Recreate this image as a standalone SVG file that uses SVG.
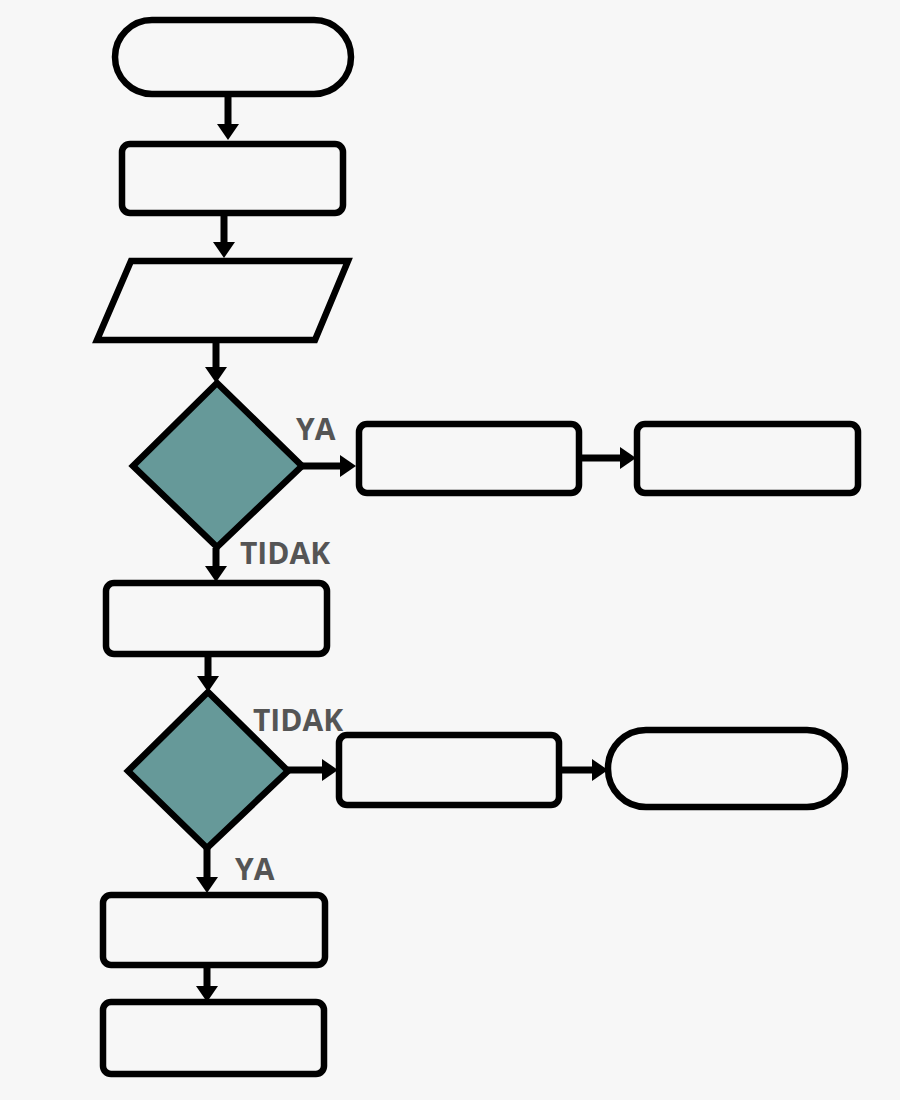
<svg xmlns="http://www.w3.org/2000/svg" width="900" height="1100" viewBox="0 0 900 1100">
  <style>
    .box { fill: #f7f7f7; stroke: #000; stroke-width: 6.5; }
    .dec { fill: #669999; stroke: #000; stroke-width: 6.5; stroke-linejoin: miter; }
    .edge { fill: none; stroke: #000; stroke-width: 7; marker-end: url(#arrow); }
    .lbl { font-family: "Open Sans", "Liberation Sans", sans-serif; font-weight: bold; font-size: 30px; fill: #555555; }
  </style>
  <defs>
    <marker id="arrow" viewBox="0 0 16 22" refX="8" refY="11" markerWidth="16" markerHeight="22" markerUnits="userSpaceOnUse" orient="auto">
      <path d="M0,0 L16,11 L0,22 Z" fill="#000"/>
    </marker>
  </defs>
  <rect width="900" height="1100" fill="#f7f7f7"/>

  <g id="connectors">
    <path class="edge" d="M228,97 V132"/>
    <path class="edge" d="M224,216 V250"/>
    <path class="edge" d="M216,340 V375"/>
    <path class="edge" d="M301,466 H348"/>
    <path class="edge" d="M582,458 H628"/>
    <path class="edge" d="M216,548 V574"/>
    <path class="edge" d="M208,657 V684"/>
    <path class="edge" d="M288,770 H330"/>
    <path class="edge" d="M562,770 H600"/>
    <path class="edge" d="M207,848 V885"/>
    <path class="edge" d="M207,968 V994"/>
  </g>

  <g id="start"><rect class="box" x="115" y="20" width="236" height="74" rx="37"/></g>
  <g id="process1"><rect class="box" x="122" y="144" width="221" height="69" rx="8"/></g>
  <g id="input"><polygon class="box" points="131,261 348,261 315,340 97,340"/></g>
  <g id="decision1"><polygon class="dec" points="217,383 302,466 217,547 133,466"/></g>
  <g id="label-ya1"><text class="lbl" x="296" y="440">YA</text></g>
  <g id="label-tidak1"><text class="lbl" x="240" y="564">TIDAK</text></g>
  <g id="process-right1"><rect class="box" x="359" y="424" width="220" height="69" rx="8"/></g>
  <g id="process-right2"><rect class="box" x="637" y="424" width="221" height="69" rx="8"/></g>
  <g id="process3"><rect class="box" x="106" y="583" width="221" height="71" rx="8"/></g>
  <g id="decision2"><polygon class="dec" points="208,692 288,771 207,848 128,771"/></g>
  <g id="label-tidak2"><text class="lbl" x="253" y="731">TIDAK</text></g>
  <g id="label-ya2"><text class="lbl" x="235" y="880">YA</text></g>
  <g id="process-right3"><rect class="box" x="339" y="735" width="220" height="70" rx="8"/></g>
  <g id="end"><rect class="box" x="608" y="730" width="237" height="77" rx="38"/></g>
  <g id="process5"><rect class="box" x="103" y="895" width="222" height="70" rx="8"/></g>
  <g id="process6"><rect class="box" x="103" y="1002" width="221" height="72" rx="8"/></g>
</svg>
